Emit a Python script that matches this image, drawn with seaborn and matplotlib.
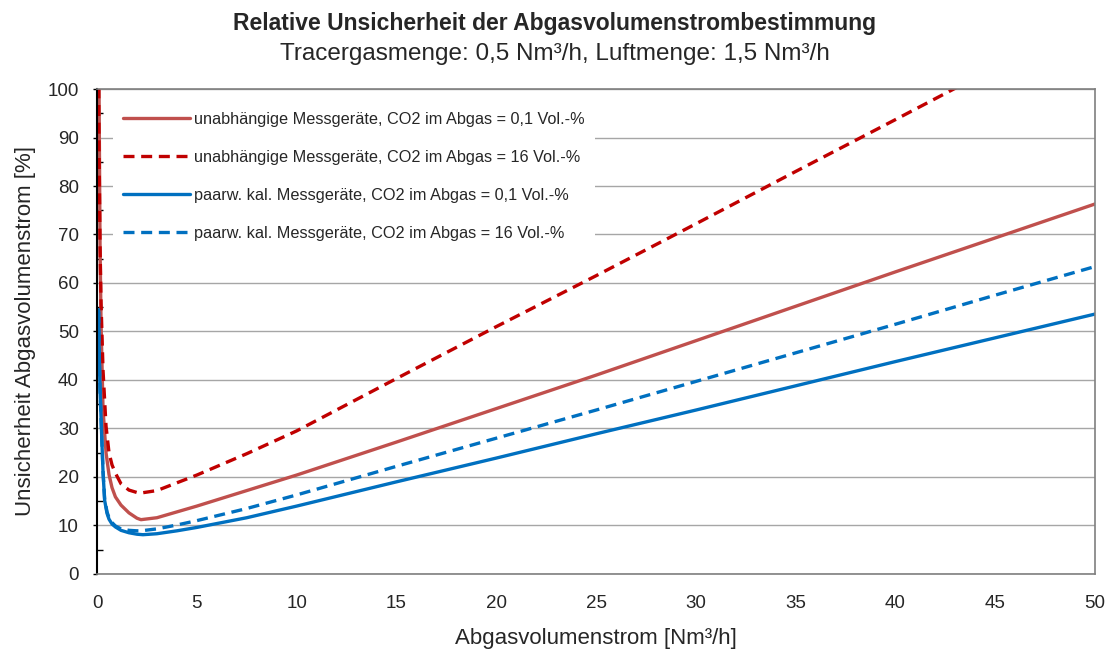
import matplotlib
matplotlib.use("Agg")
import matplotlib.pyplot as plt
import seaborn as sns
import numpy as np
import pandas as pd
from matplotlib.ticker import MultipleLocator

# ---- data ----
x_red_solid = [0.07, 0.1, 0.15, 0.2, 0.3, 0.45, 0.6, 0.75, 0.92, 1.2, 1.6, 2.0, 2.2, 3, 4, 5, 7.5, 10, 15, 20, 25, 30, 35, 40, 45, 50]
y_red_solid = [140, 100, 68, 52, 34, 25, 20.5, 17.8, 15.9, 14.2, 12.6, 11.5, 11.2, 11.6, 12.8, 14.0, 17.2, 20.4, 27.2, 34.1, 41.0, 48.1, 55.2, 62.3, 69.3, 76.3]

x_red_dash = [0.06, 0.1, 0.15, 0.2, 0.3, 0.45, 0.6, 0.75, 0.92, 1.2, 1.6, 2.0, 2.2, 3, 4, 5, 7.5, 10, 15, 20, 25, 30, 35, 40, 45, 50]
y_red_dash = [120, 88, 68, 56, 42, 30.5, 25, 22.5, 20.8, 18.6, 17.3, 16.8, 16.7, 17.2, 18.8, 20.4, 24.8, 29.5, 40.3, 51.0, 61.5, 72.2, 83.0, 93.7, 104.5, 115.0]

x_blue_solid = [0.08, 0.1, 0.15, 0.22, 0.3, 0.38, 0.5, 0.6, 0.75, 0.92, 1.2, 1.6, 2.0, 2.3, 3, 4, 5, 7.5, 10, 15, 20, 25, 30, 35, 40, 45, 50]
y_blue_solid = [54.5, 47, 38, 30, 21, 15.2, 12.5, 11.3, 10.3, 9.7, 9.0, 8.5, 8.2, 8.1, 8.3, 8.9, 9.6, 11.6, 14.0, 19.0, 23.9, 28.9, 33.8, 38.8, 43.8, 48.7, 53.6]

x_blue_dash = [0.08, 0.1, 0.15, 0.22, 0.3, 0.38, 0.5, 0.6, 0.75, 0.92, 1.2, 1.6, 2.0, 2.2, 3, 4, 5, 7.5, 10, 15, 20, 25, 30, 35, 40, 45, 50]
y_blue_dash = [54.0, 47, 38, 30, 21.2, 15.5, 12.8, 11.6, 10.6, 9.9, 9.3, 9.0, 8.9, 8.9, 9.3, 10.1, 11.0, 13.5, 16.3, 22.2, 28.0, 33.8, 39.7, 45.6, 51.5, 57.5, 63.4]

labels = [
    "unabhängige Messgeräte, CO2 im Abgas = 0,1 Vol.-%",
    "unabhängige Messgeräte, CO2 im Abgas = 16 Vol.-%",
    "paarw. kal. Messgeräte, CO2 im Abgas = 0,1 Vol.-%",
    "paarw. kal. Messgeräte, CO2 im Abgas = 16 Vol.-%",
]
title = "Relative Unsicherheit der Abgasvolumenstrombestimmung"
subtitle = "Tracergasmenge: 0,5 Nm³/h, Luftmenge: 1,5 Nm³/h"
xlabel = "Abgasvolumenstrom [Nm³/h]"
ylabel = "Unsicherheit Abgasvolumenstrom [%]"

sns.set_theme(style="white")
plt.rcParams['font.family'] = ['Liberation Sans', 'DejaVu Sans']

fig = plt.figure(figsize=(11.09, 6.53), dpi=100)
ax = fig.add_axes([0.0875, 0.121, 0.9, 0.7427])

series = [
    (x_red_solid, y_red_solid, labels[0], "#C0504D", "-"),
    (x_red_dash, y_red_dash, labels[1], "#C00000", (0, (3.3, 2.0))),
    (x_blue_solid, y_blue_solid, labels[2], "#0070C0", "-"),
    (x_blue_dash, y_blue_dash, labels[3], "#0070C0", (0, (3.3, 2.0))),
]
for xs, ys, lab, col, ls in series:
    df = pd.DataFrame({"x": xs, "y": ys})
    sns.lineplot(data=df, x="x", y="y", ax=ax, color=col, linestyle=ls,
                 linewidth=2.4, label=lab, sort=False, estimator=None)

ax.set_xlim(0, 50)
ax.set_ylim(0, 100)
ax.xaxis.set_major_locator(MultipleLocator(5))
ax.yaxis.set_major_locator(MultipleLocator(10))
ax.yaxis.set_minor_locator(MultipleLocator(5))
ax.grid(axis="y", which="major", color="#A6A6A6", linewidth=1.0)
ax.grid(axis="x", visible=False)
ax.set_axisbelow(True)

ax.tick_params(axis="y", which="major", left=True, direction="out", length=3, width=1, color="black", labelsize=13.5, pad=10)
ax.tick_params(axis="y", which="minor", left=True, direction="in", length=4, width=1, color="black")
ax.tick_params(axis="x", which="major", bottom=False, labelsize=13.5, pad=9)

for s in ["top", "right", "bottom"]:
    ax.spines[s].set_color("#7F7F7F")
    ax.spines[s].set_linewidth(1.2)
ax.spines["left"].set_color("black")
ax.spines["left"].set_linewidth(1.5)

ax.set_xlabel(xlabel, fontsize=16, labelpad=12)
ax.set_ylabel(ylabel, fontsize=16, labelpad=8)

leg = ax.legend(loc="upper left", bbox_to_anchor=(0.008, 0.99), frameon=True,
                facecolor="white", edgecolor="none", framealpha=1.0,
                fontsize=11.7, handlelength=4.1, handletextpad=0.3,
                labelspacing=1.42, borderpad=0.6, fancybox=False)

fig.text(0.5, 0.964, title, ha="center", va="center", fontsize=16.5, fontweight="bold")
fig.text(0.5, 0.917, subtitle, ha="center", va="center", fontsize=17.5)

fig.savefig("out.png", dpi=100, facecolor="white")
